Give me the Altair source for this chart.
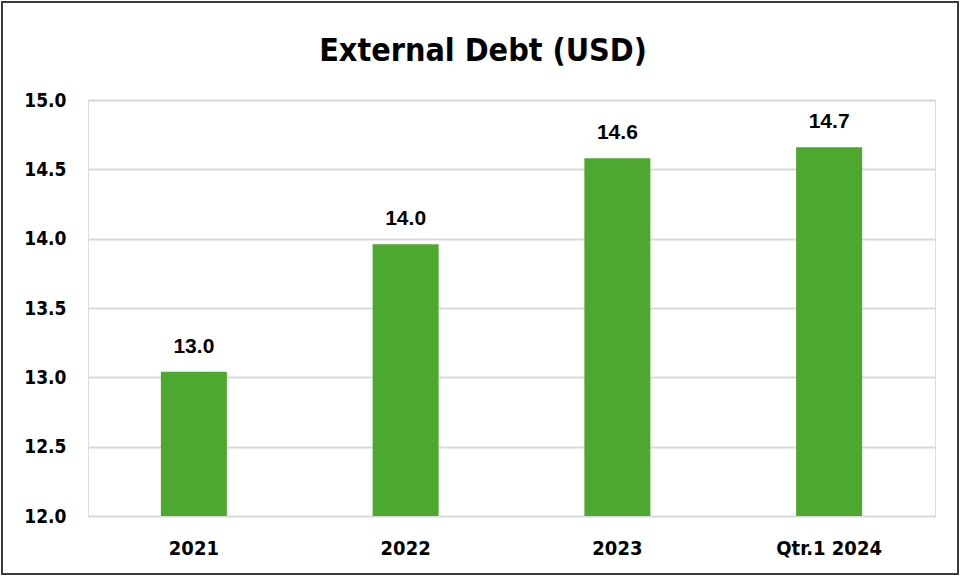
import altair as alt
import pandas as pd

categories = ["2021", "2022", "2023", "Qtr.1 2024"]
values = [13.04, 13.96, 14.58, 14.66]
labels = ["13.0", "14.0", "14.6", "14.7"]
y_ticks = [12.0, 12.5, 13.0, 13.5, 14.0, 14.5, 15.0]
baseline_value = 12.0
title_text = "External Debt (USD)"

df = pd.DataFrame({"cat": categories, "val": values, "lab": labels})

FONT_N = "DejaVu Sans Condensed"
FONT = "Liberation Sans"

x_enc = alt.X("cat:N", sort=categories, title=None,
              scale=alt.Scale(paddingInner=0, paddingOuter=0),
              axis=alt.Axis(labelAngle=0, labelFont=FONT_N, labelFontSize=20,
                            labelFontWeight="bold", labelColor="#000000",
                            labelPadding=22, domain=False, ticks=False))
y_enc = alt.Y("val:Q", title=None,
              scale=alt.Scale(domain=[12, 15], zero=False, nice=False),
              axis=alt.Axis(values=y_ticks, format=".1f", labelFont=FONT_N,
                            labelFontSize=19, labelFontWeight="bold",
                            labelColor="#000000", labelPadding=22,
                            domain=False, ticks=False, gridColor="#d9d9d9",
                            gridWidth=2))

base = alt.Chart(df)

bars = base.mark_bar(size=66, color="#4EA72E").encode(
    x=x_enc, y=y_enc, y2=alt.datum(baseline_value))

text = base.mark_text(dy=-19, baseline="alphabetic", font=FONT, fontSize=21,
                      fontWeight="bold", color="#000000").encode(
    x=alt.X("cat:N", sort=categories), y="val:Q", text="lab:N")

deco = pd.DataFrame({"t": [title_text]})

title = alt.Chart(deco).mark_text(font=FONT_N, fontSize=32, fontWeight="bold",
                                  color="#000000", baseline="alphabetic",
                                  align="center").encode(
    x=alt.value(395), y=alt.value(-39), text="t:N")

border = alt.Chart(deco).mark_rect(
    fill=None, stroke="#3a3a3a", strokeWidth=2).encode(
    x=alt.value(-86), x2=alt.value(870), y=alt.value(-98), y2=alt.value(474))

chart = alt.layer(bars, text, title, border).properties(
    width=847, height=416,
    padding={"left": 88, "top": 100, "right": 26, "bottom": 61},
    autosize=alt.AutoSizeParams(type="none"),
).configure_view(stroke=None).configure(background="#ffffff")

chart.save("out.html", embed_options={"renderer": "svg", "actions": False})
